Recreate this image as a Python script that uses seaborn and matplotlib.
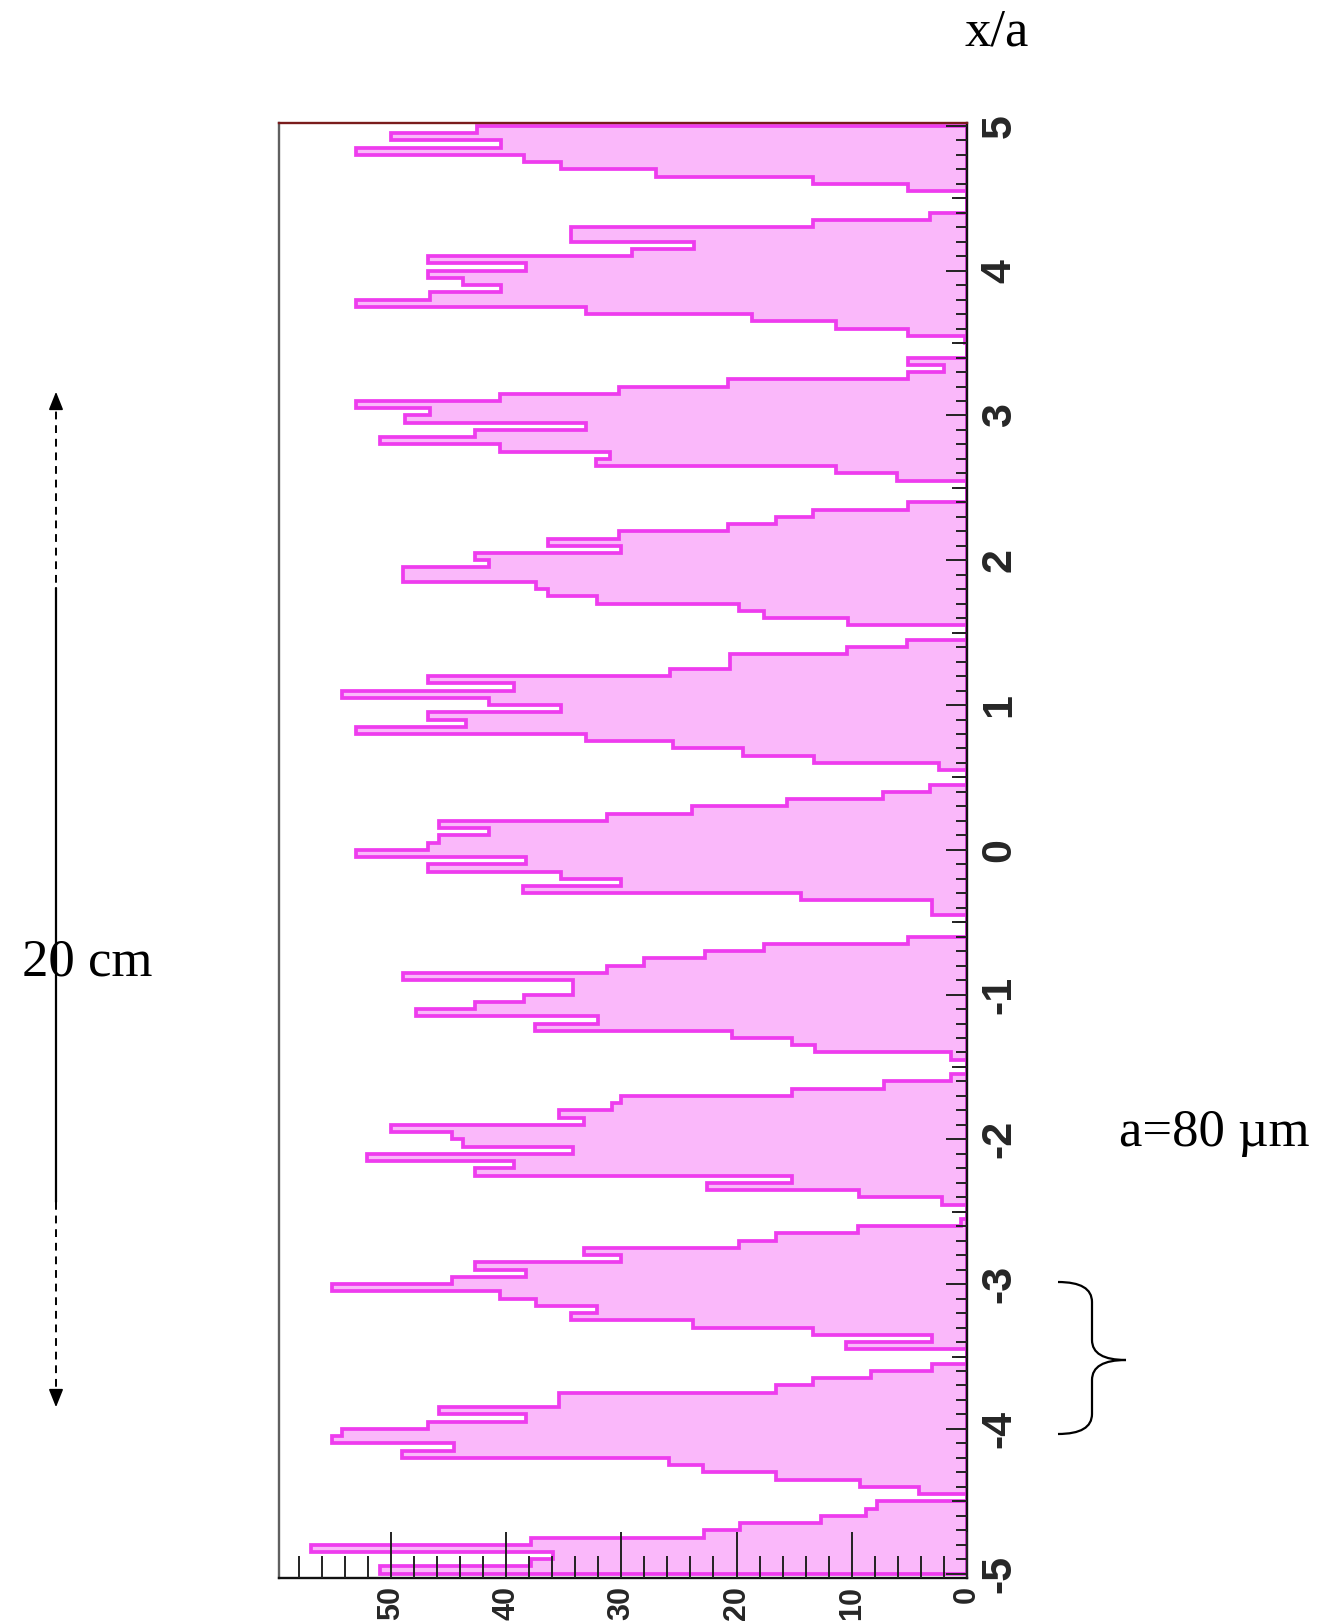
import numpy as np
import pandas as pd
import matplotlib
matplotlib.use('Agg')
import matplotlib.pyplot as plt
import seaborn as sns
from matplotlib.path import Path
from matplotlib.patches import PathPatch

top_half = [42.5, 50, 40.4, 53, 38.4, 35.2, 27, 13.4, 5.1, 0]                      # 5.0 .. 4.5
strip_p4 = [0, 0, 3.2, 13.4, 34.4, 34.4, 23.7, 29.1, 46.8, 38.3,
            46.8, 43.7, 40.4, 46.6, 53, 33.1, 18.7, 11.4, 5.1, 0.2]                 # 4.5 .. 3.5
strip_p3 = [0, 0, 5.1, 2.0, 5.1, 20.7, 30.2, 40.5, 53, 46.6,
            48.8, 33.1, 42.7, 50.9, 40.5, 31, 32.2, 11.4, 6.1, 0]                   # 3.5 .. 2.5
strip_p2 = [0, 0, 5.1, 13.4, 16.6, 20.7, 30.2, 36.4, 30, 42.7,
            41.5, 48.9, 48.9, 37.4, 36.4, 32.1, 19.8, 17.6, 10.3, 0]                # 2.5 .. 1.5
strip_p1 = [0, 5.2, 10.4, 20.6, 20.6, 25.8, 46.8, 39.3, 54.2, 41.5,
            35.2, 46.8, 43.5, 53, 33.1, 25.5, 19.4, 13.3, 2.4, 0]                   # 1.5 .. 0.5
strip_0 = [0, 3.2, 7.3, 15.6, 23.9, 31.2, 45.8, 41.5, 45.8, 46.8,
           53, 38.3, 46.8, 35.2, 30, 38.5, 14.4, 3, 3, 0]                           # 0.5 .. -0.5
strip_m1 = [0, 0, 5.1, 17.6, 22.7, 28, 31.2, 48.9, 34.2, 34.2,
            38.4, 42.7, 47.8, 32, 37.5, 20.4, 15.2, 13.2, 1.4, 0]                   # -0.5 .. -1.5
strip_m2 = [0, 1.4, 7.2, 15.2, 30, 30.8, 35.4, 33.2, 50, 44.7,
            43.7, 34.2, 52.1, 39.3, 42.7, 15.2, 22.6, 9.4, 2.2, 0]                  # -1.5 .. -2.5
strip_m3 = [0, 0.5, 9.5, 16.6, 19.8, 33.2, 30, 42.7, 38.3, 44.7,
            55.1, 40.5, 37.4, 32.1, 34.4, 23.8, 13.4, 3, 10.5, 0]                   # -2.5 .. -3.5
strip_m4 = [0, 3, 8.3, 13.4, 16.6, 35.4, 35.4, 45.8, 38.3, 46.8,
            54.2, 55.1, 44.5, 49, 25.9, 22.9, 16.6, 9.3, 4.2, 0]                    # -3.5 .. -4.5
bottom_half = [7.8, 8.8, 12.7, 19.7, 22.8, 37.8, 56.9, 35.9, 37.8, 50.9]           # -4.5 .. -5.0

xa_ticks = [-5, -4, -3, -2, -1, 0, 1, 2, 3, 4, 5]
xa_labels = ['-5', '-4', '-3', '-2', '-1', '0', '1', '2', '3', '4', '5']
count_ticks = [0, 10, 20, 30, 40, 50]
count_labels = ['0', '10', '20', '30', '40', '50']

counts = np.concatenate([top_half, strip_p4, strip_p3, strip_p2, strip_p1, strip_0,
                         strip_m1, strip_m2, strip_m3, strip_m4, bottom_half])[::-1]
n_bins = len(counts)
edges = np.linspace(-5, 5, n_bins + 1)
hist_df = pd.DataFrame({'xa': 0.5 * (edges[:-1] + edges[1:]), 'count': counts})

sns.set_style("white")
plt.rcParams['font.family'] = ['Liberation Sans', 'DejaVu Sans']
tick_font = ['Liberation Sans Narrow', 'Liberation Sans', 'DejaVu Sans']

fig = plt.figure(figsize=(13.42, 16.23), dpi=100)
ax = fig.add_axes([0.2079, 0.0277, 0.5127, 0.8965])

sns.histplot(data=hist_df, y='xa', weights='count', bins=n_bins, binrange=(-5, 5),
             element="step", fill=True,
             facecolor='#fab8fa', edgecolor='#ee3cee', linewidth=2.7,
             joinstyle='miter', ax=ax)

ax.set_xlabel('')
ax.set_ylabel('')
ax.set_xlim(59.7, 0)
ax.set_ylim(-5.03, 5.02)

# half-unit ticks of medium length (twin made first: twinx moves ax ticks to the left)
ax_half = ax.twinx()
ax_half.set_ylim(-5.03, 5.02)
ax_half.set_yticks(np.arange(-4.5, 5, 1.0))
ax_half.set_yticklabels([])
ax_half.tick_params(axis='y', direction='in', length=11, width=1.4, color='#222222')
for s in ax_half.spines.values():
    s.set_visible(False)

ax.set_axisbelow(False)

# value axis (bottom)
ax.set_xticks(count_ticks)
ax.set_xticklabels(count_labels, rotation=90, fontsize=22, fontweight='bold',
                   family=tick_font)
ax.set_xticks(np.arange(0, 59, 2), minor=True)
ax.tick_params(axis='x', which='major', direction='in', length=33, width=1.4,
               color='#222222', pad=6, bottom=True, top=False)
ax.tick_params(axis='x', which='minor', direction='in', length=16, width=1.4,
               color='#222222', bottom=True, top=False)

# x/a axis (right)
ax.yaxis.tick_right()
ax.set_yticks(xa_ticks)
ax.set_yticklabels(xa_labels, rotation=90, va='center', fontsize=31,
                   fontweight='bold', family=tick_font)
ax.set_yticks(np.arange(-5, 5.01, 0.1), minor=True)
ax.tick_params(axis='y', which='major', direction='in', length=15, width=1.4,
               color='#222222', pad=9, right=True, left=False,
               labelright=True, labelleft=False)
ax.tick_params(axis='y', which='minor', direction='in', length=8, width=1.4,
               color='#222222', right=True, left=False)

ax.spines['top'].set_color('#7a1c1c')
ax.spines['left'].set_color('#606060')
ax.spines['right'].set_color('#111111')
ax.spines['bottom'].set_color('#111111')
for s in ax.spines.values():
    s.set_linewidth(1.7)

# annotation layer in pixel coordinates
ov = fig.add_axes([0, 0, 1, 1], zorder=5)
ov.set_xlim(0, 1342)
ov.set_ylim(1623, 0)
ov.axis('off')
ov.patch.set_alpha(0)

serif = dict(family=['Liberation Serif', 'DejaVu Serif'], fontsize=38, color='black')
ov.text(997, 45, 'x/a', ha='center', va='baseline', **serif)
ov.text(87, 975, '20 cm', ha='center', va='baseline', **serif)
ov.text(1214, 1146, 'a=80 µm', ha='center', va='baseline', **serif)

# 20 cm scale arrow
arrow_x = 56
ov.plot([arrow_x, arrow_x], [398, 588], color='black', lw=1.4, ls=(0, (4, 3)))
ov.plot([arrow_x, arrow_x], [588, 1202], color='black', lw=1.6)
ov.plot([arrow_x, arrow_x], [1202, 1401], color='black', lw=1.4, ls=(0, (4, 3)))
ov.annotate('', xy=(arrow_x, 389), xytext=(arrow_x, 402),
            arrowprops=dict(arrowstyle='-|>,head_length=0.5,head_width=0.2',
                            color='black', lw=1.2, mutation_scale=22))
ov.annotate('', xy=(arrow_x, 1410), xytext=(arrow_x, 1397),
            arrowprops=dict(arrowstyle='-|>,head_length=0.5,head_width=0.2',
                            color='black', lw=1.2, mutation_scale=22))

# curly brace marking one period
verts = [(1058, 1282), (1092, 1282), (1092, 1302),
         (1092, 1340),
         (1092, 1360), (1126, 1360),
         (1092, 1360), (1092, 1380),
         (1092, 1414),
         (1092, 1434), (1058, 1434)]
codes = [Path.MOVETO, Path.CURVE3, Path.CURVE3,
         Path.LINETO,
         Path.CURVE3, Path.CURVE3,
         Path.CURVE3, Path.CURVE3,
         Path.LINETO,
         Path.CURVE3, Path.CURVE3]
ov.add_patch(PathPatch(Path(verts, codes), facecolor='none', edgecolor='black', lw=1.6))

fig.savefig('out.png', dpi=100)
